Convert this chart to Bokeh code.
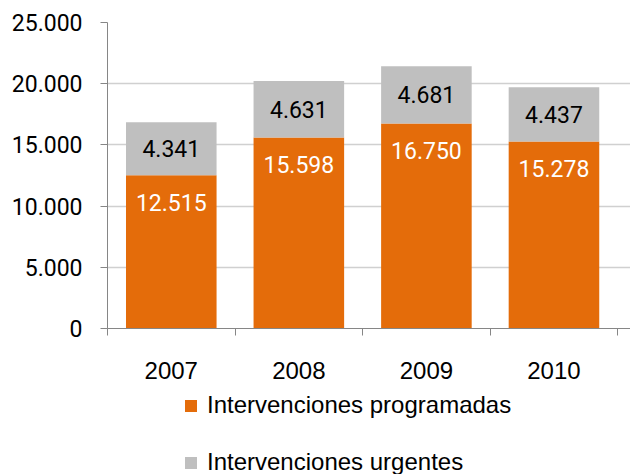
from bokeh.plotting import figure
from bokeh.layouts import column
from bokeh.models import ColumnDataSource, Range1d, FixedTicker, Legend, LegendItem
from bokeh.core.properties import value
from bokeh.embed import file_html
from bokeh.resources import INLINE

years = ["2007", "2008", "2009", "2010"]
programadas = [12515, 15598, 16750, 15278]
urgentes = [4341, 4631, 4681, 4437]
series_names = ["Intervenciones programadas", "Intervenciones urgentes"]
y_ticks = [0, 5000, 10000, 15000, 20000, 25000]
y_tick_labels = ["0", "5.000", "10.000", "15.000", "20.000", "25.000"]

ORANGE = "#E46C0A"
GRAY = "#BFBFBF"
AXIS = "#868686"

def fmt(v):
    return f"{v:,}".replace(",", ".")

centers = [i + 0.5 for i in range(len(years))]
bounds = [float(i) for i in range(len(years) + 1)]
tops = [p + u for p, u in zip(programadas, urgentes)]
mids = [p + u / 2 for p, u in zip(programadas, urgentes)]

src = ColumnDataSource(dict(
    x=centers, prog=programadas, urg=urgentes, top=tops, mid=mids,
    zero=[0] * len(years),
    prog_lbl=[fmt(v) for v in programadas],
    urg_lbl=[fmt(v) for v in urgentes],
))

p = figure(width=630, height=390, output_backend="svg", toolbar_location=None,
           x_range=Range1d(0, 4.10), y_range=Range1d(0, 25000),
           min_border_left=107, min_border_right=0, min_border_top=22,
           min_border_bottom=62)
p.outline_line_color = None
p.background_fill_color = "white"
p.border_fill_color = "white"

r1 = p.vbar(x="x", bottom="zero", top="prog", width=0.71, source=src,
            fill_color=ORANGE, line_color=None)
r2 = p.vbar(x="x", bottom="prog", top="top", width=0.71, source=src,
            fill_color=GRAY, line_color=None)

p.text(x="x", y="prog", text="prog_lbl", source=src, text_color="white",
       text_font=value("Roboto"), text_font_size="23px", text_align="center",
       text_baseline="middle", y_offset=27)
p.text(x="x", y="mid", text="urg_lbl", source=src, text_color="black",
       text_font=value("Roboto"), text_font_size="23px", text_align="center",
       text_baseline="middle")

# grid
p.xgrid.visible = False
p.ygrid.ticker = FixedTicker(ticks=y_ticks)
p.ygrid.grid_line_color = "#D0D0D0"
p.ygrid.grid_line_width = 1.5

# y axis
ya = p.yaxis[0]
ya.ticker = FixedTicker(ticks=y_ticks)
ya.major_label_overrides = {t: l for t, l in zip(y_ticks, y_tick_labels)}
ya.axis_line_color = AXIS
ya.major_tick_line_color = AXIS
ya.major_tick_out = 7
ya.major_tick_in = 0
ya.minor_tick_line_color = None
ya.major_label_text_font = "Roboto"
ya.major_label_text_font_size = "23px"
ya.major_label_text_color = "black"
ya.major_label_standoff = 18

# x axis
xa = p.xaxis[0]
xa.ticker = FixedTicker(ticks=centers, minor_ticks=bounds)
xa.major_label_overrides = {c: y for c, y in zip(centers, years)}
xa.axis_line_color = AXIS
xa.major_tick_line_color = None
xa.major_tick_out = 0
xa.major_tick_in = 0
xa.minor_tick_line_color = AXIS
xa.minor_tick_out = 7
xa.minor_tick_in = 0
xa.major_label_text_font = "Liberation Sans"
xa.major_label_text_font_size = "24px"
xa.major_label_text_color = "black"
xa.major_label_standoff = 26

# legend panel (separate figure below the chart; its bar renderers are hidden)
p2 = figure(width=630, height=84, output_backend="svg", toolbar_location=None,
            x_range=Range1d(0, 4.10), y_range=Range1d(0, 25000),
            min_border=0, min_border_left=0, min_border_right=0,
            min_border_top=0, min_border_bottom=0)
p2.outline_line_color = None
p2.axis.visible = False
p2.grid.visible = False
p2.border_fill_color = "white"
lg1 = p2.vbar(x="x", bottom="zero", top="prog", width=0.71, source=src,
              fill_color=ORANGE, line_color=None, visible=False)
lg2 = p2.vbar(x="x", bottom="prog", top="top", width=0.71, source=src,
              fill_color=GRAY, line_color=None, visible=False)

legend = Legend(items=[
    LegendItem(label=series_names[0], renderers=[lg1]),
    LegendItem(label=series_names[1], renderers=[lg2]),
], location=(76, -2), orientation="vertical")
legend.label_text_font = "Liberation Sans"
legend.label_text_font_size = "24px"
legend.label_text_color = "black"
legend.glyph_width = 15
legend.glyph_height = 15
legend.label_height = 26
legend.spacing = 29
legend.label_standoff = 9
legend.padding = 0
legend.margin = 0
legend.border_line_color = None
legend.background_fill_alpha = 0
p2.add_layout(legend, "center")

layout = column(p, p2, spacing=0)
open("out.html", "w").write(file_html(layout, INLINE))
